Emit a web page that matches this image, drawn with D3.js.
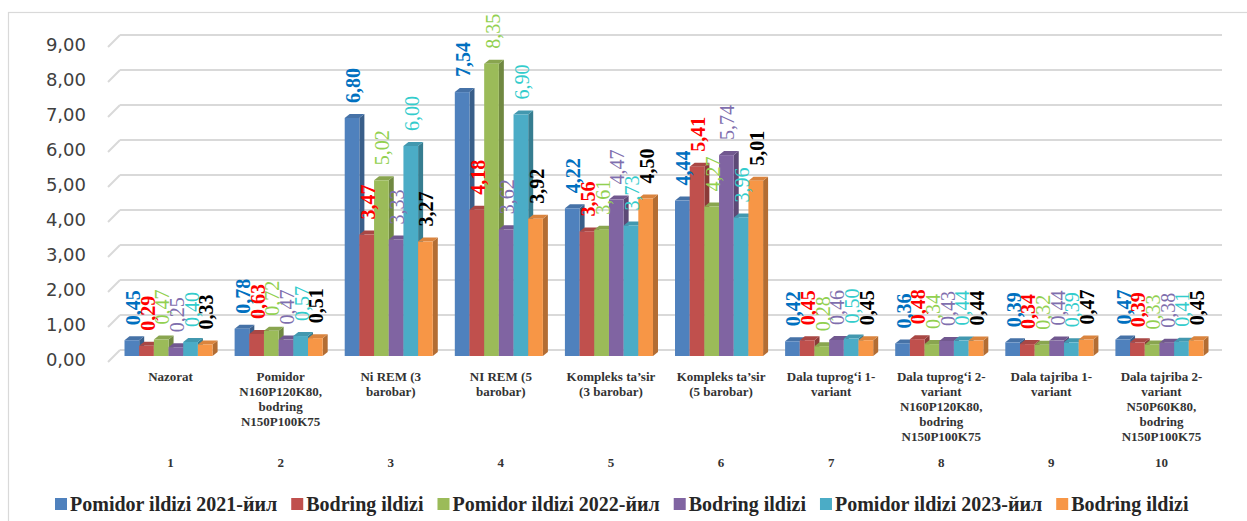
<!DOCTYPE html>
<html>
<head>
<meta charset="utf-8">
<script src="https://cdn.jsdelivr.net/npm/d3@7"></script>
<style>
  html, body { margin: 0; padding: 0; background: #ffffff; }
  svg { display: block; }
</style>
</head>
<body>
<svg id="chart" width="1247" height="521"></svg>
<script>
// ---------------- data ----------------
const categoryNumbers = ["1","2","3","4","5","6","7","8","9","10"];
const categoryLines = [
  ["Nazorat"],
  ["Pomidor", "N160P120K80,", "bodring", "N150P100K75"],
  ["Ni REM (3", "barobar)"],
  ["NI REM (5", "barobar)"],
  ["Kompleks ta\u2019sir", "(3 barobar)"],
  ["Kompleks ta\u2019sir", "(5 barobar)"],
  ["Dala tuprog\u2018i 1-", "variant"],
  ["Dala tuprog\u2018i 2-", "variant", "N160P120K80,", "bodring", "N150P100K75"],
  ["Dala tajriba 1-", "variant"],
  ["Dala tajriba 2-", "variant", "N50P60K80,", "bodring", "N150P100K75"]
];
const seriesNames = [
  "Pomidor ildizi 2021-йил",
  "Bodring ildizi",
  "Pomidor ildizi 2022-йил",
  "Bodring ildizi",
  "Pomidor ildizi 2023-йил",
  "Bodring ildizi"
];
const tomato2021   = [0.45, 0.78, 6.80, 7.54, 4.22, 4.44, 0.42, 0.36, 0.39, 0.47];
const cucumber2021 = [0.29, 0.63, 3.47, 4.18, 3.56, 5.41, 0.45, 0.48, 0.34, 0.39];
const tomato2022   = [0.47, 0.72, 5.02, 8.35, 3.61, 4.27, 0.28, 0.34, 0.32, 0.33];
const cucumber2022 = [0.25, 0.47, 3.33, 3.62, 4.47, 5.74, 0.46, 0.43, 0.44, 0.38];
const tomato2023   = [0.40, 0.57, 6.00, 6.90, 3.73, 3.96, 0.50, 0.44, 0.39, 0.41];
const cucumber2023 = [0.33, 0.51, 3.27, 3.92, 4.50, 5.01, 0.45, 0.44, 0.47, 0.45];
const yTicks = [0,1,2,3,4,5,6,7,8,9];

// ---------------- styles ----------------
const seriesValues = [tomato2021, cucumber2021, tomato2022, cucumber2022, tomato2023, cucumber2023];
const barColors   = ["#4F81BD", "#C0504D", "#9BBB59", "#8064A2", "#4BACC6", "#F79646"];
const labelColors = ["#0070C0", "#FF0000", "#92D050", "#7F6FAE", "#33CCCC", "#000000"];
const labelWeights = ["bold", "bold", "normal", "normal", "normal", "bold"];
const serif = "Liberation Serif, Times New Roman, serif";
const fmt = v => d3.format(".2f")(v).replace(".", ",");

const svg = d3.select("#chart");

// outer frame
svg.append("rect").attr("x", 8.5).attr("y", 12.5).attr("width", 1260).attr("height", 530)
  .attr("fill", "none").attr("stroke", "#d9d9d9").attr("stroke-width", 1.2);

// ---------------- scales ----------------
const y = d3.scaleLinear().domain([0, 9]).range([356, 41]);
const x0 = d3.scaleBand().domain(categoryNumbers).range([113.5, 1214.5])
  .paddingInner(0.2).paddingOuter(0.1);
const x1 = d3.scaleBand().domain(d3.range(seriesValues.length)).range([0, x0.bandwidth()]);
const depthX = 5, depthY = 4;
const wallShift = 6, floorDx = 12;

// gridlines (back wall + left floor diagonal)
const grid = svg.append("g");
yTicks.forEach(t => {
  const yy = y(t) - wallShift;
  grid.append("line").attr("x1", 120).attr("x2", 1222).attr("y1", yy).attr("y2", yy)
    .attr("stroke", "#d9d9d9").attr("stroke-width", 2);
  grid.append("line").attr("x1", 120 - floorDx).attr("y1", yy + floorDx).attr("x2", 120).attr("y2", yy)
    .attr("stroke", "#d9d9d9").attr("stroke-width", 2);
});

// y axis labels
const yAxis = d3.axisLeft(y).tickValues(yTicks).tickFormat(fmt).tickSize(0).tickPadding(0);
const yg = svg.append("g").attr("transform", "translate(86,4)").call(yAxis);
yg.select(".domain").remove();
yg.selectAll("text").attr("font-family", "DejaVu Sans, Verdana, sans-serif")
  .attr("font-size", 18).attr("fill", "#404040");

// ---------------- bars (3D) ----------------
const bars = svg.append("g");
categoryNumbers.forEach((c, ci) => {
  seriesValues.forEach((vals, si) => {
    const v = vals[ci];
    const x = x0(c) + x1(si);
    const w = x1.bandwidth();
    const yt = y(v), yb = y(0);
    const base = d3.color(barColors[si]);
    bars.append("path")
      .attr("d", `M${x + w},${yt} L${x + w + depthX},${yt - depthY} L${x + w + depthX},${yb - depthY} L${x + w},${yb} Z`)
      .attr("fill", base.darker(0.9));
    bars.append("path")
      .attr("d", `M${x},${yt} L${x + depthX},${yt - depthY} L${x + w + depthX},${yt - depthY} L${x + w},${yt} Z`)
      .attr("fill", base.darker(0.35));
    bars.append("rect").attr("x", x).attr("y", yt).attr("width", w).attr("height", yb - yt)
      .attr("fill", base);
  });
});

// ---------------- value labels ----------------
const labels = svg.append("g");
categoryNumbers.forEach((c, ci) => {
  seriesValues.forEach((vals, si) => {
    const v = vals[ci];
    const cx = x0(c) + x1(si) + x1.bandwidth() / 2 + 1;
    const ty = y(v) - 15;
    labels.append("text")
      .attr("transform", `translate(${cx},${ty}) rotate(-90)`)
      .attr("dominant-baseline", "central")
      .attr("text-anchor", "start")
      .attr("font-family", serif)
      .attr("font-size", 20)
      .attr("font-weight", labelWeights[si])
      .attr("fill", labelColors[si])
      .text(fmt(v));
  });
});

// ---------------- category labels ----------------
const cats = svg.append("g");
categoryNumbers.forEach((c, ci) => {
  const cx = x0(c) + x0.bandwidth() / 2 + 2;
  const t = cats.append("text").attr("text-anchor", "middle")
    .attr("font-family", serif).attr("font-size", 13).attr("font-weight", "bold")
    .attr("fill", "#333333");
  categoryLines[ci].forEach((line, li) => {
    t.append("tspan").attr("x", cx).attr("y", 381 + li * 15).text(line);
  });
  cats.append("text").attr("text-anchor", "middle").attr("x", cx).attr("y", 467)
    .attr("font-family", serif).attr("font-size", 13).attr("font-weight", "bold")
    .attr("fill", "#333333").text(c);
});

// ---------------- legend ----------------
const legend = svg.append("g");
let lx = 55;
seriesNames.forEach((name, si) => {
  legend.append("rect").attr("x", lx).attr("y", 498).attr("width", 12).attr("height", 12)
    .attr("fill", barColors[si]);
  const t = legend.append("text").attr("x", lx + 15).attr("y", 511)
    .attr("font-family", serif).attr("font-size", 20).attr("font-weight", "bold")
    .attr("fill", "#262626").text(name);
  lx += 15 + t.node().getComputedTextLength() + 14;
});
</script>
</body>
</html>
